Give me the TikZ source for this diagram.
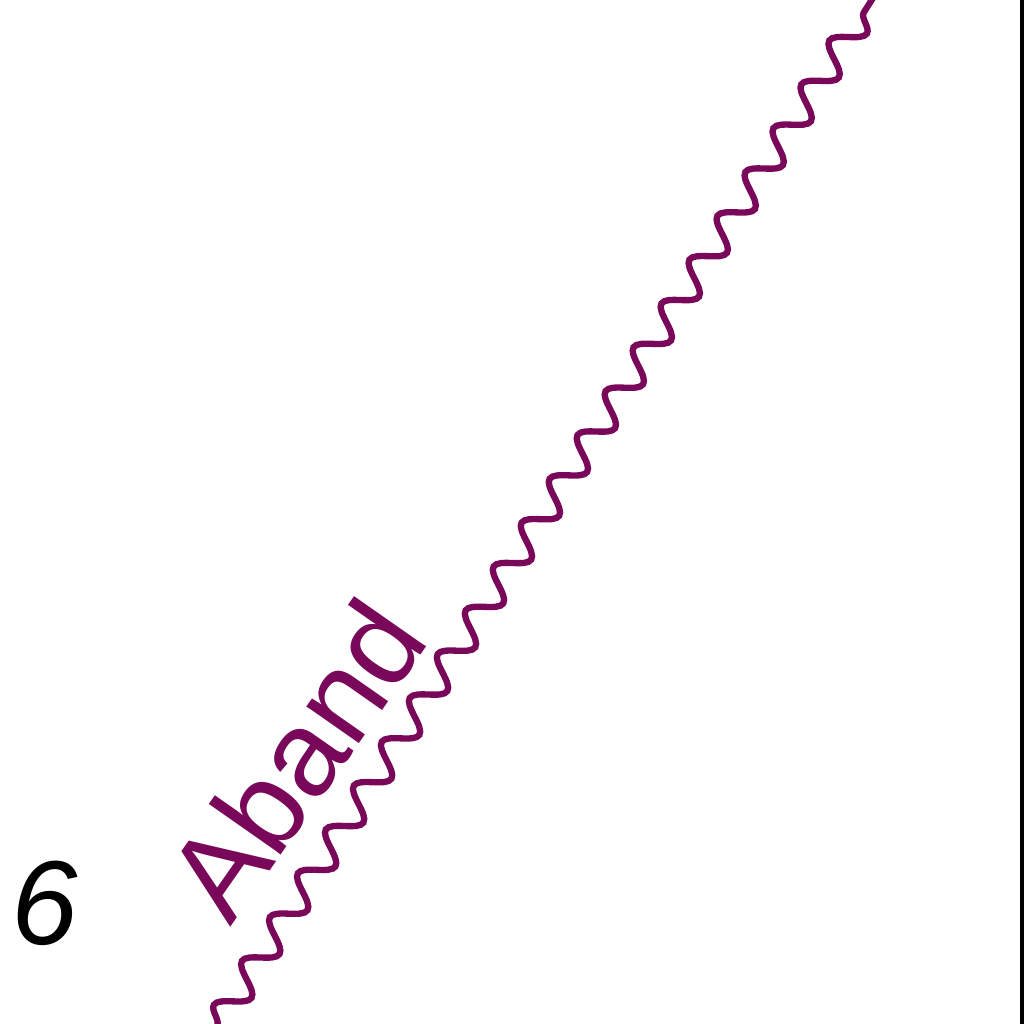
\documentclass[tikz,border=0pt]{standalone}
\usepackage{fontspec}
\setmainfont{Liberation Sans}
\usetikzlibrary{decorations.pathmorphing}
\definecolor{wavecol}{RGB}{122,8,90}
\tikzset{
  wave/.style={draw=wavecol, line width=1.8pt, decorate,
    decoration={snake, segment length=0.52cm, amplitude=0.14cm}},
  lbl/.style={font=\fontsize{34.5}{38}\selectfont, inner sep=0pt}
}
\begin{document}
\begin{tikzpicture}
\useasboundingbox (0,0) rectangle (10.24,10.24);
\clip (0,0) rectangle (10.24,10.24);
\coordinate (s) at (2.17,-0.02);
\coordinate (e) at (8.73,10.26);
\draw[wave] (s) -- (e);
\node[lbl, text=wavecol, anchor=base, rotate=55] (t) at (3.31,2.40) {Aband};
\node[lbl, anchor=base, font=\fontsize{34}{38}\selectfont\itshape] (six) at (0.45,0.79) {6};
\coordinate (b1) at (10.22,0);
\coordinate (b2) at (10.22,10.24);
\draw[line width=0.9pt] (b1) -- (b2);
\end{tikzpicture}
\end{document}
